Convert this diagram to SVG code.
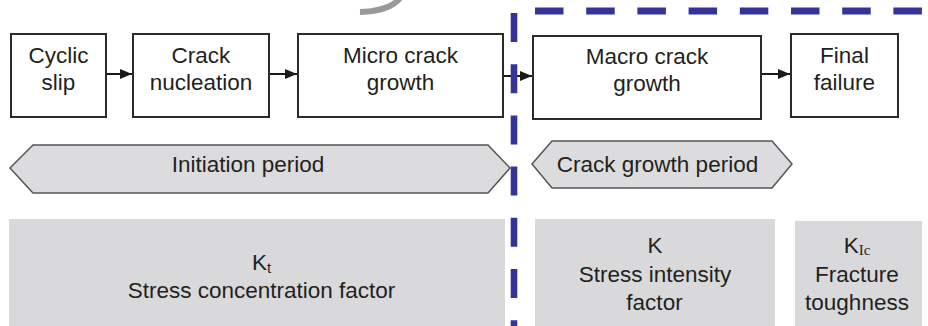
<svg xmlns="http://www.w3.org/2000/svg" width="928" height="326" viewBox="0 0 928 326">
<defs>
<marker id="ah" viewBox="0 0 12 10" refX="12" refY="5" markerWidth="12" markerHeight="10" markerUnits="userSpaceOnUse" orient="auto">
<path d="M0,0 L12,5 L0,10 Z" fill="#1a1a1a"/>
</marker>
<style>
.box{fill:#fff;stroke:#2b2b2b;stroke-width:2}
.hex{fill:#dcdcde;stroke:#555;stroke-width:1.5}
.gbox{fill:#d9d9db}
.t{font-family:"Liberation Sans",Arial,sans-serif;font-size:22.5px;fill:#231f20;text-anchor:middle}
.sub{font-size:15px}
.serif{font-family:"Liberation Serif","Times New Roman",serif}
.conn{stroke:#1a1a1a;stroke-width:2;fill:none;marker-end:url(#ah)}
.dash{stroke:#33339a;fill:none}
</style>
</defs>
<rect width="928" height="326" fill="#fff"/>
<path d="M360,12 Q390,11 400,-2" stroke="#999" stroke-width="6" fill="none"/>
<g id="bottom-boxes">
<g id="kt"><rect class="gbox" x="9" y="219" width="496" height="107"/>
<text class="t" x="261.5" y="270">K<tspan class="sub" dy="3">t</tspan></text>
<text class="t" x="261.5" y="298">Stress concentration factor</text></g>
<g id="k"><rect class="gbox" x="535" y="219" width="240" height="107"/>
<text class="t" x="655" y="253">K</text>
<text class="t" x="655" y="282">Stress intensity</text>
<text class="t" x="654.5" y="310">factor</text></g>
<g id="kic"><rect class="gbox" x="795" y="221" width="127" height="105"/>
<text class="t" x="857" y="253">K<tspan class="sub serif" dy="2">Ic</tspan></text>
<text class="t" x="857" y="282">Fracture</text>
<text class="t" x="857" y="310">toughness</text></g>
</g>
<g id="periods">
<g id="initiation"><polygon class="hex" points="10,168 33,145 488,145 510,168 488,193 33,193"/>
<text class="t" x="248" y="172">Initiation period</text></g>
<g id="crackgrowth"><polygon class="hex" points="532,164 552,141 772,141 792,164 772,188 552,188"/>
<text class="t" x="657.5" y="172">Crack growth period</text></g>
</g>
<g id="cyclic-slip"><rect class="box" x="11" y="34" width="95" height="83"/>
<text class="t" x="58.5" y="63">Cyclic</text><text class="t" x="58.5" y="89.5">slip</text></g>
<g id="crack-nucleation"><rect class="box" x="133" y="34" width="136" height="83"/>
<text class="t" x="201" y="63">Crack</text><text class="t" x="201" y="89.5">nucleation</text></g>
<g id="micro-crack"><rect class="box" x="298" y="34" width="205" height="83"/>
<text class="t" x="400.5" y="63">Micro crack</text><text class="t" x="400.5" y="89.5">growth</text></g>
<g id="macro-crack"><rect class="box" x="533" y="36" width="228" height="83"/>
<text class="t" x="647" y="64">Macro crack</text><text class="t" x="647" y="90.5">growth</text></g>
<g id="final-failure"><rect class="box" x="791" y="34" width="107" height="83"/>
<text class="t" x="844.5" y="63">Final</text><text class="t" x="844.5" y="89.5">failure</text></g>
<g id="connectors">
<line class="conn" x1="107" y1="74" x2="132" y2="74"/>
<line class="conn" x1="270" y1="74" x2="297" y2="74"/>
<line class="conn" x1="504" y1="76" x2="532" y2="76"/>
<line class="conn" x1="762" y1="74" x2="790" y2="74"/>
</g>
<g id="boundary">
<line class="dash" x1="514" y1="13" x2="514" y2="330" stroke-width="6.6" stroke-dasharray="29 22.2"/>
<line class="dash" x1="535" y1="11" x2="932" y2="11" stroke-width="7" stroke-dasharray="28.5 22.7"/>
</g>
</svg>
